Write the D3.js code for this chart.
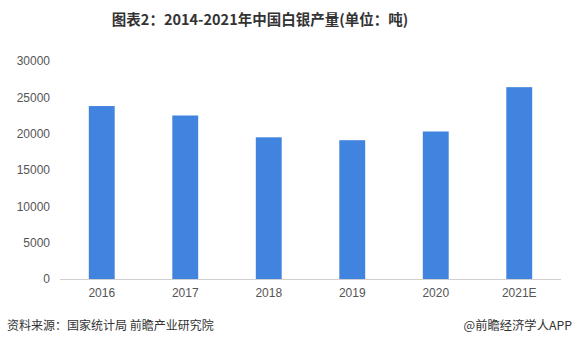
<!DOCTYPE html>
<html><head><meta charset="utf-8">
<script src="https://cdn.jsdelivr.net/npm/d3@7"></script>
<style>body{margin:0;background:#fff}svg{display:block}</style>
</head><body>
<script>
const categories = ["2016","2017","2018","2019","2020","2021E"];
const values = [23800, 22500, 19500, 19100, 20300, 26400];
const yTicks = [0,5000,10000,15000,20000,25000,30000];
const title = "图表2：2014-2021年中国白银产量(单位：吨)";
const source = "资料来源：国家统计局 前瞻产业研究院";
const credit = "@前瞻经济学人APP";

const W=576,H=356;
const svg=d3.select("body").append("svg").attr("width",W).attr("height",H);
const cjk="'Noto Sans CJK SC','Noto Sans',sans-serif";
const num="'Liberation Sans',Arial,sans-serif";

const x=d3.scaleBand().domain(categories).range([60,561]).paddingInner(0.69).paddingOuter(0.345);
const y=d3.scaleLinear().domain([0,30000]).range([279,61]);

svg.append("text").attr("x",260).attr("y",25).attr("text-anchor","middle")
  .attr("font-family",cjk).attr("font-weight","bold").attr("font-size",14.5).attr("fill","#333").text(title);

const ya=svg.append("g").attr("transform","translate(50,0)")
  .call(d3.axisLeft(y).tickValues(yTicks).tickSize(0).tickPadding(0).tickFormat(d3.format("d")));
ya.select(".domain").remove();
ya.selectAll("text").attr("font-family",num).attr("font-size",12).attr("fill","#555");

svg.append("g").selectAll("rect").data(values).join("rect")
  .attr("x",(d,i)=>x(categories[i])).attr("width",x.bandwidth())
  .attr("y",d=>y(d)).attr("height",d=>y(0)-y(d)).attr("fill","#4084df");

const xa=svg.append("g").attr("transform","translate(0,279)")
  .call(d3.axisBottom(x).tickSize(0).tickPadding(9));
xa.select(".domain").attr("stroke","#d0d0d0").attr("d","M60,0.5H561");
xa.selectAll("text").attr("font-family",num).attr("font-size",12).attr("fill","#555");

svg.append("text").attr("x",7).attr("y",330).attr("font-family",cjk).attr("font-size",12).attr("fill","#333").text(source);
svg.append("text").attr("x",572).attr("y",330).attr("text-anchor","end").attr("font-family",cjk).attr("font-size",12.3).attr("fill","#333").text(credit);
</script>
</body></html>
